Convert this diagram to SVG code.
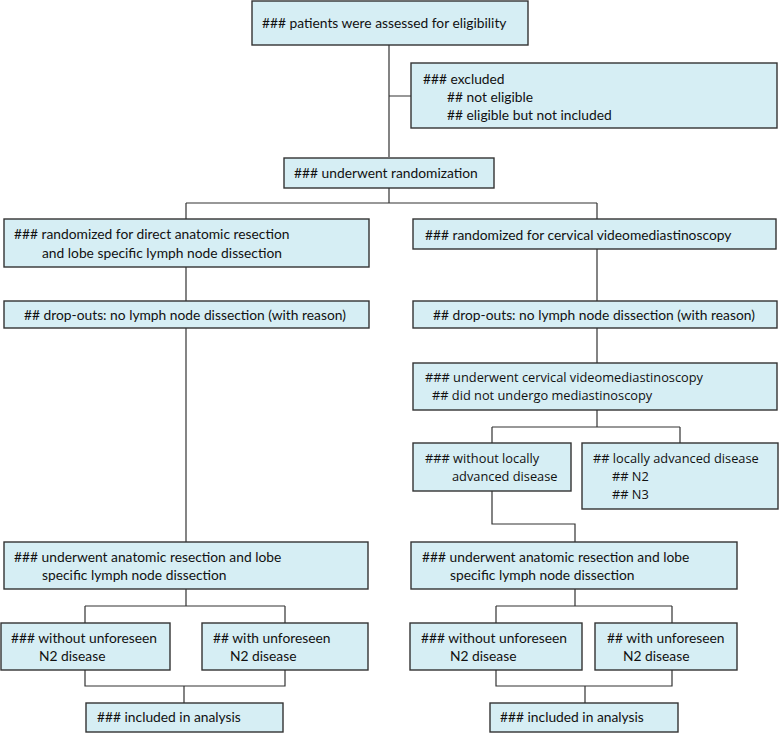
<svg xmlns="http://www.w3.org/2000/svg" width="779" height="733" viewBox="0 0 779 733">
<style>
.b{fill:#d6eef4;stroke:#333;stroke-width:1.4}
.t{font-family:Lato,"Liberation Sans",sans-serif;font-size:13.8px;fill:#111}
.w{font-family:"Open Sans","Noto Sans",sans-serif;font-size:12.8px;fill:#111}
.c{fill:none;stroke:#333;stroke-width:1.2}
</style>
<rect width="779" height="733" fill="#fff"/>
<g id="connectors" class="c">
<path d="M389 45V157M389 96H411"/>
<path d="M389 188V203M186 203H597M186 203V219M597 203V219"/>
<path d="M186 267V301M597 249V301"/>
<path d="M186 328V542"/>
<path d="M597 328V363M597 410V427M492 427H680M492 427V443M680 427V443"/>
<path d="M492 491V524H575V542"/>
<path d="M186 589V606M85 606H285M85 606V623M285 606V623"/>
<path d="M85 670V686H285V670M184 686V703"/>
<path d="M575 589V606M496 606H672M496 606V623M672 606V623"/>
<path d="M496 670V686H672V670M585 686V703"/>
</g>
<g id="n1"><rect class="b" x="252" y="1" width="276" height="44"/><text class="t" x="262" y="28">### patients were assessed for eligibility</text></g>
<g id="n2"><rect class="b" x="411" y="63" width="366" height="65"/>
<text class="t" x="423" y="84">### excluded</text>
<text class="t" x="447" y="102">## not eligible</text>
<text class="t" x="447" y="120">## eligible but not included</text></g>
<g id="n3"><rect class="b" x="284" y="158" width="210" height="30"/><text class="t" x="294" y="178">### underwent randomization</text></g>
<g id="n4"><rect class="b" x="4" y="219" width="365" height="48"/>
<text class="t" x="14" y="239">### randomized for direct anatomic resection</text>
<text class="t" x="42" y="258">and lobe specific lymph node dissection</text></g>
<g id="n5"><rect class="b" x="413" y="219" width="363" height="30"/><text class="t" x="425" y="240">### randomized for cervical videomediastinoscopy</text></g>
<g id="n6"><rect class="b" x="4" y="301" width="365" height="27"/><text class="t" x="24" y="320">## drop-outs: no lymph node dissection (with reason)</text></g>
<g id="n7"><rect class="b" x="413" y="301" width="364" height="27"/><text class="t" x="433" y="320">## drop-outs: no lymph node dissection (with reason)</text></g>
<g id="n8"><rect class="b" x="413" y="363" width="364" height="47"/>
<text class="w" x="425" y="382">### underwent cervical videomediastinoscopy</text>
<text class="w" x="432" y="400">##  did not undergo mediastinoscopy</text></g>
<g id="n9"><rect class="b" x="413" y="443" width="158" height="48"/>
<text class="w" x="425" y="463">### without locally</text>
<text class="w" x="452" y="481">advanced disease</text></g>
<g id="n10"><rect class="b" x="582" y="443" width="196" height="66"/>
<text class="w" x="593" y="463">## locally advanced disease</text>
<text class="w" x="612" y="481">## N2</text>
<text class="w" x="612" y="499">## N3</text></g>
<g id="n11"><rect class="b" x="4" y="542" width="364" height="47"/>
<text class="t" x="14" y="562">### underwent anatomic resection and lobe</text>
<text class="t" x="42" y="580">specific lymph node dissection</text></g>
<g id="n12"><rect class="b" x="411" y="542" width="326" height="47"/>
<text class="t" x="422" y="562">### underwent anatomic resection and lobe</text>
<text class="t" x="450" y="580">specific lymph node dissection</text></g>
<g id="n13"><rect class="b" x="1" y="623" width="169" height="47"/>
<text class="t" x="11" y="643">### without unforeseen</text>
<text class="t" x="39" y="661">N2 disease</text></g>
<g id="n14"><rect class="b" x="202" y="623" width="166" height="47"/>
<text class="t" x="213" y="643">## with unforeseen</text>
<text class="t" x="230" y="661">N2 disease</text></g>
<g id="n15"><rect class="b" x="410" y="623" width="172" height="47"/>
<text class="t" x="421" y="643">### without unforeseen</text>
<text class="t" x="450" y="661">N2 disease</text></g>
<g id="n16"><rect class="b" x="595" y="623" width="142" height="47"/>
<text class="t" x="607" y="643">## with unforeseen</text>
<text class="t" x="623" y="661">N2 disease</text></g>
<g id="n17"><rect class="b" x="86" y="703" width="197" height="29"/><text class="t" x="97" y="722">### included in analysis</text></g>
<g id="n18"><rect class="b" x="490" y="703" width="188" height="29"/><text class="t" x="500" y="722">### included in analysis</text></g>
</svg>
